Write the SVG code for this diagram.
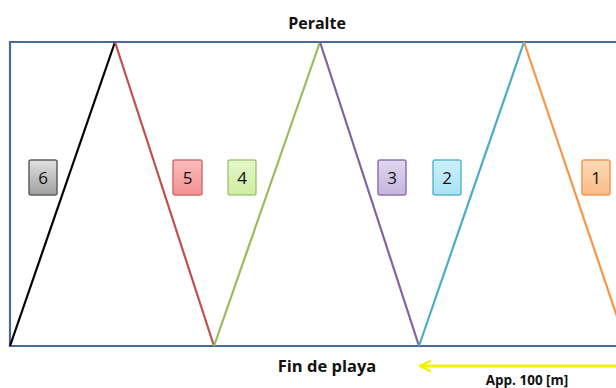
<svg xmlns="http://www.w3.org/2000/svg" width="616" height="388" viewBox="0 0 616 388">
<defs>
<style>
.frame{fill:none;stroke:#4a6a9a;stroke-width:2.2}
.seg{fill:none;stroke-width:2.2}
.box{stroke-width:1.5}
.num{font-family:"Open Sans","Liberation Sans",sans-serif;font-size:17px;fill:#111;text-anchor:middle}
.lbl{font-family:"Open Sans","Liberation Sans",sans-serif;font-weight:bold;fill:#111;text-anchor:middle}
</style>
<linearGradient id="g6" x1="0" y1="0" x2="0" y2="1"><stop offset="0" stop-color="#e0e0e0"/><stop offset="1" stop-color="#a0a0a0"/></linearGradient>
<linearGradient id="g5" x1="0" y1="0" x2="0" y2="1"><stop offset="0" stop-color="#fbbcbc"/><stop offset="1" stop-color="#f29191"/></linearGradient>
<linearGradient id="g4" x1="0" y1="0" x2="0" y2="1"><stop offset="0" stop-color="#e6f7cc"/><stop offset="1" stop-color="#cdee9e"/></linearGradient>
<linearGradient id="g3" x1="0" y1="0" x2="0" y2="1"><stop offset="0" stop-color="#e0d6ee"/><stop offset="1" stop-color="#c4b3de"/></linearGradient>
<linearGradient id="g2" x1="0" y1="0" x2="0" y2="1"><stop offset="0" stop-color="#cdf0fb"/><stop offset="1" stop-color="#a9e2f4"/></linearGradient>
<linearGradient id="g1" x1="0" y1="0" x2="0" y2="1"><stop offset="0" stop-color="#fddab9"/><stop offset="1" stop-color="#fbbb85"/></linearGradient>
<marker id="ah" viewBox="0 0 10 10" refX="1" refY="5" markerWidth="4.5" markerHeight="4.5" orient="auto" markerUnits="strokeWidth">
<path d="M9,1 L1,5 L9,9" fill="none" stroke="#f2f200" stroke-width="1.8" stroke-linejoin="miter"/>
</marker>
</defs>

<g id="frame">
<path class="frame" d="M620,42 H10 V346 H620"/>
</g>

<g id="connectors">
<line class="seg" stroke="#000000" x1="10" y1="346" x2="115" y2="42"/>
<line class="seg" stroke="#c0504d" x1="115" y1="42" x2="214" y2="346"/>
<line class="seg" stroke="#9bbb59" x1="214" y1="346" x2="320" y2="42"/>
<line class="seg" stroke="#8064a2" x1="320" y1="42" x2="419" y2="346"/>
<line class="seg" stroke="#4bacc6" x1="419" y1="346" x2="524" y2="42"/>
<line class="seg" stroke="#f79646" x1="524" y1="42" x2="627" y2="346"/>
<line x1="420" y1="366" x2="620" y2="366" stroke="#f2f200" stroke-width="3" marker-start="url(#ah)"/>
</g>

<g id="n6"><rect class="box" x="29" y="160" width="28" height="35" rx="2" fill="url(#g6)" stroke="#5f5f5f"/><text class="num" x="43" y="184">6</text></g>
<g id="n5"><rect class="box" x="173" y="160" width="29" height="35" rx="2" fill="url(#g5)" stroke="#d07070"/><text class="num" x="187.5" y="184">5</text></g>
<g id="n4"><rect class="box" x="228" y="160" width="28" height="35" rx="2" fill="url(#g4)" stroke="#a6c87a"/><text class="num" x="242" y="184">4</text></g>
<g id="n3"><rect class="box" x="378" y="160" width="28" height="35" rx="2" fill="url(#g3)" stroke="#8c76b0"/><text class="num" x="392" y="184">3</text></g>
<g id="n2"><rect class="box" x="433" y="160" width="28" height="35" rx="2" fill="url(#g2)" stroke="#5cb6d0"/><text class="num" x="447" y="184">2</text></g>
<g id="n1"><rect class="box" x="582" y="160" width="28" height="35" rx="2" fill="url(#g1)" stroke="#f09a55"/><text class="num" x="596" y="184">1</text></g>

<g id="labels">
<text class="lbl" x="317" y="29" font-size="16">Peralte</text>
<text class="lbl" x="327" y="372" font-size="16.5">Fin de playa</text>
<text class="lbl" x="527" y="385" font-size="13.5">App. 100 [m]</text>
</g>
</svg>
